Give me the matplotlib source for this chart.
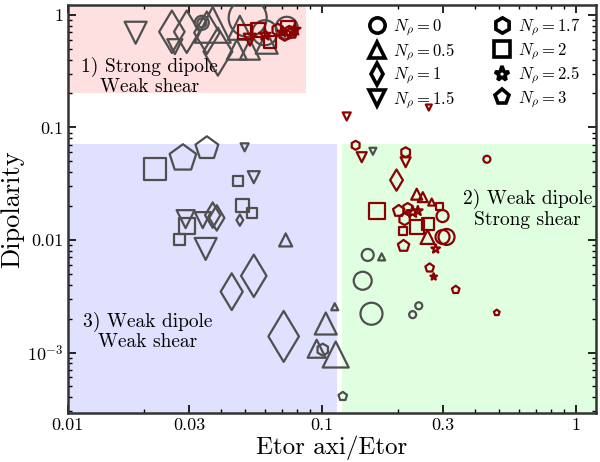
import numpy as np
import matplotlib
matplotlib.use('Agg')
import matplotlib.pyplot as plt
from matplotlib.lines import Line2D

plt.rcParams['font.family'] = 'serif'
plt.rcParams['font.serif'] = ['cmr10']
plt.rcParams['mathtext.fontset'] = 'cm'
plt.rcParams['axes.unicode_minus'] = False
plt.rcParams['axes.formatter.use_mathtext'] = True

# N_rho value -> marker
nrho_levels = [0, 0.5, 1, 1.5, 1.7, 2, 2.5, 3]
nrho_markers = ['o', '^', 'd', 'v', 'h', 's', '*', 'p']

# gray series (x = Etor axi/Etor, y = dipolarity, N_rho, symbol size px)
gray_x = [0.0185, 0.0257, 0.0294, 0.0264, 0.0337, 0.0337, 0.0372, 0.0390, 0.0353,
          0.0511, 0.0476, 0.0463, 0.0521, 0.0607, 0.0597, 0.0728,
          0.0220, 0.0284, 0.0353, 0.0497, 0.0467, 0.0540, 0.0489, 0.0530, 0.0476,
          0.0291, 0.0294, 0.0340, 0.0372, 0.0386, 0.0276, 0.0349, 0.0721, 0.0442,
          0.0540, 0.1125, 0.1037, 0.0708, 0.0955, 0.1009, 0.1135, 0.1210,
          0.1517, 0.1722, 0.1450, 0.1570, 0.2410, 0.2280, 0.1590]
gray_y = [0.693, 0.707, 0.707, 0.521, 0.849, 0.849, 0.816, 0.471, 0.693,
          0.940, 0.767, 0.490, 0.490, 0.565, 0.693, 0.767,
          0.0425, 0.0532, 0.0652, 0.0665, 0.0333, 0.0361, 0.0204, 0.0173, 0.0150,
          0.0153, 0.0133, 0.0150, 0.0166, 0.0157, 0.0100, 0.00832, 0.0100, 0.00347,
          0.0048, 0.00255, 0.00181, 0.00139, 0.00108, 0.00106, 0.00096, 0.000408,
          0.00736, 0.00707, 0.00434, 0.00221, 0.0026, 0.00217, 0.0613]
gray_nrho = [1.5, 1, 1, 1.5, 0, 0, 0.5, 1, 1,
             0, 0.5, 0.5, 0.5, 0.5, 0, 0,
             2, 3, 3, 1.5, 2, 1.5, 2, 2, 1,
             1.5, 2, 1.5, 1, 1, 2, 1.5, 0.5, 1,
             1, 0.5, 0.5, 1, 0.5, 1.7, 0.5, 3,
             0, 0.5, 0, 0, 0, 0, 1.5]
gray_size = [22, 30, 30, 15, 9, 14, 36, 34, 30,
             38, 24, 20, 20, 22, 25, 22,
             22, 28, 24, 8, 10, 12, 13, 10, 8,
             18, 16, 16, 18, 18, 11, 22, 13, 26,
             30, 7, 22, 36, 18, 12, 26, 9,
             12, 7, 18, 22, 7, 7, 7]

# dark red series
red_x = [0.0497, 0.0560, 0.0597, 0.0671, 0.0735, 0.0762, 0.0783, 0.0715, 0.0521,
         0.0624, 0.0745, 0.0700,
         0.136, 0.1437, 0.214, 0.214, 0.447, 0.197, 0.1254, 0.264, 0.165,
         0.2366, 0.250, 0.271, 0.292, 0.299, 0.201, 0.228, 0.212, 0.2366,
         0.261, 0.208, 0.261, 0.299, 0.310, 0.281, 0.210, 0.218, 0.239,
         0.266, 0.276, 0.337, 0.489]
red_y = [0.707, 0.737, 0.665, 0.737, 0.767, 0.693, 0.737, 0.665, 0.601,
         0.577, 0.720, 0.700,
         0.0693, 0.0543, 0.0601, 0.049, 0.0521, 0.034, 0.125, 0.150, 0.0181,
         0.0255, 0.024, 0.0217, 0.020, 0.0163, 0.0181, 0.0177, 0.0153, 0.013,
         0.0139, 0.012, 0.01063, 0.01063, 0.01063, 0.00832, 0.00885, 0.0192, 0.0181,
         0.00565, 0.00471, 0.00361, 0.00226]
red_nrho = [2, 2, 2.5, 1.7, 2, 3, 2.5, 1.7, 1.5,
            2, 1.7, 2.5,
            1.7, 1.5, 1.7, 1.5, 0, 1, 1.5, 1.5, 2,
            0.5, 0.5, 0.5, 2, 0, 3, 2.5, 1.7, 2,
            2, 2, 0.5, 0, 0, 2.5, 3, 1.7, 2.5,
            3, 2.5, 3, 3]
red_size = [14, 14, 12, 12, 14, 12, 12, 12, 12,
            12, 10, 10,
            9, 10, 10, 10, 7, 15, 8, 6, 16,
            11, 10, 7, 7, 12, 12, 12, 12, 14,
            12, 8, 14, 14, 16, 9, 12, 10, 10,
            9, 7, 8, 6]

xlim = (0.01, 1.2)
ylim = (2.9e-4, 1.22)

fig = plt.figure(figsize=(6, 4.62), dpi=100)
ax = fig.add_axes([0.113, 0.106, 0.88, 0.883])
ax.set_xscale('log')
ax.set_yscale('log')
ax.set_xlim(xlim)
ax.set_ylim(ylim)

# regime boxes
ax.fill_between([xlim[0], 0.087], 0.2, ylim[1], color=(1, 0, 0), alpha=0.12, lw=0)
ax.fill_between([xlim[0], 0.1146], ylim[0], 0.0707, color=(0, 0, 1), alpha=0.12, lw=0)
ax.fill_between([0.12, xlim[1]], ylim[0], 0.0707, color=(0, 1, 0), alpha=0.12, lw=0)


def draw(xs, ys, nr, sz, col):
    xs, ys, nr, sz = map(np.asarray, (xs, ys, nr, sz))
    for lev, mk in zip(nrho_levels, nrho_markers):
        sel = np.isclose(nr, lev)
        if not sel.any():
            continue
        ms = sz[sel] * 72 / 100.
        ax.scatter(xs[sel], ys[sel], s=ms**2, marker=mk, facecolors='none',
                   edgecolors=col, linewidths=1.6, zorder=3)


draw(gray_x, gray_y, gray_nrho, gray_size, '#4f4f4f')
draw(red_x, red_y, red_nrho, red_size, '#8b0000')

txt = dict(fontsize=14, ha='center', va='center', linespacing=1.1)
ax.text(0.0210, 0.283, '1) Strong dipole\nWeak shear', **txt)
ax.text(0.647, 0.0188, '2) Weak dipole\nStrong shear', **txt)
ax.text(0.0206, 0.00153, '3) Weak dipole\nWeak shear', **txt)

handles = [Line2D([], [], ls='none', marker=mk, mfc='none', mec='k', mew=2.6, ms=11,
                  label=r'$N_\rho = %g$' % lev)
           for lev, mk in zip(nrho_levels, nrho_markers)]
ax.legend(handles=handles, ncol=2, loc='upper right', frameon=False, fontsize=12,
          bbox_to_anchor=(1.0, 1.008), handletextpad=0.4, labelspacing=0.2,
          columnspacing=2.2, handlelength=1.2, borderpad=0.4)

ax.set_xticks([0.01, 0.03, 0.1, 0.3, 1])
ax.set_xticklabels(['0.01', '0.03', '0.1', '0.3', '1'])
ax.set_yticks([1e-3, 0.01, 0.1, 1])
ax.set_yticklabels([r'$10^{-3}$', '0.01', '0.1', '1'])
ax.tick_params(which='both', direction='in', top=True, right=True, labelsize=13)
ax.tick_params(which='major', length=6, width=1.2)
ax.tick_params(which='minor', length=3, width=1)
for s in ax.spines.values():
    s.set_linewidth(1.8)
    s.set_color('#333333')

ax.set_xlabel('Etor axi/Etor', fontsize=18, labelpad=2)
ax.set_ylabel('Dipolarity', fontsize=19, labelpad=2)

fig.savefig('out.png', dpi=100)
